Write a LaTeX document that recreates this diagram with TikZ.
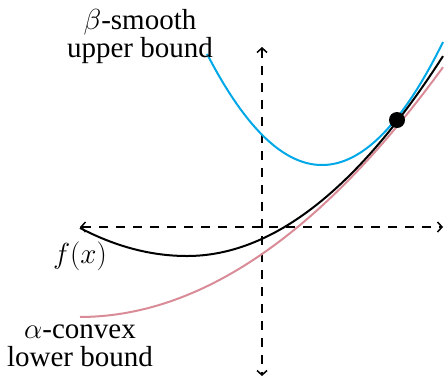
\RequirePackage{fix-cm}
\documentclass[tikz,border=0pt]{standalone}
\usepackage[no-math]{fontspec}
\setmainfont{Liberation Serif}
\usetikzlibrary{arrows.meta}
\definecolor{upperblue}{HTML}{00A8E8}
\definecolor{lowerpink}{HTML}{D98C97}
\begin{document}
\begin{tikzpicture}[x=1pt,y=-1pt,
  axis/.style={line width=1.5pt, dash pattern=on 9pt off 8pt, {Straight Barb[length=4.5pt,width=10pt]}-{Straight Barb[length=4.5pt,width=10pt]}},
  curve/.style={line width=2pt},
  lbl/.style={align=center, inner sep=0pt, font=\fontsize{29}{28}\selectfont}]
\useasboundingbox (0,0) rectangle (444,378);
\coordinate (xl) at (80,227);
\coordinate (xr) at (443,227);
\coordinate (yt) at (262,47);
\coordinate (yb) at (262,376);
\draw[axis] (xl) -- (xr);
\draw[axis] (yt) -- (yb);
% alpha-convex lower bound
\draw[curve, lowerpink] plot[domain=80:443, samples=80] (\x, {254 - 0.69*(\x-262) - 18.9*((\x-262)/100)^2});
% beta-smooth upper bound
\draw[curve, upperblue] plot[domain=207:443, samples=80] (\x, {165 - 84*((\x-322)/100)^2});
% f(x)
\draw[curve, black] plot[domain=80:187, samples=40] (\x, {256 - 24.5*((\x-187)/100)^2})
  -- plot[domain=187:443, samples=80] (\x, {256 - 30.5*((\x-187)/100)^2});
\node[circle, fill=black, inner sep=0pt, minimum size=16pt] (p) at (397,120) {};
\node[lbl] (beta) at (140,37) {$\beta$-smooth\\upper bound};
\node[lbl] (f) at (80,256) {$f(x)$};
\node[lbl] (alpha) at (80,346) {$\alpha$-convex\\lower bound};
\end{tikzpicture}
\end{document}
